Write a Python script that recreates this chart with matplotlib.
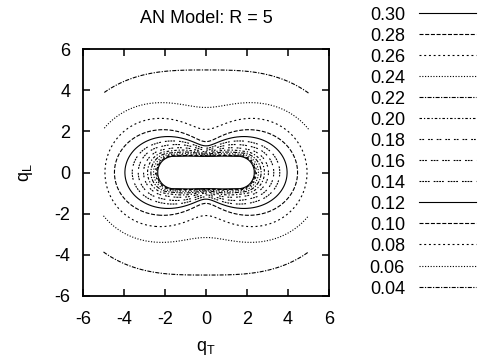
import numpy as np
import matplotlib
matplotlib.use("Agg")
import matplotlib.pyplot as plt
from matplotlib.lines import Line2D

plt.rcParams["font.family"] = ["Liberation Sans", "DejaVu Sans"]
plt.rcParams["lines.scale_dashes"] = False
plt.rcParams["axes.unicode_minus"] = False

levels = [0.04, 0.06, 0.08, 0.10, 0.12, 0.14, 0.16, 0.18, 0.20,
          0.22, 0.24, 0.26, 0.28, 0.30]

# outer contours, points (q_T, q_L) in the first quadrant
c04_x = [0.0, 2.5, 4.93, 7.0]
c04_y = [4.97, 4.87, 3.89, 0.0]
c06_x = [0.0, 2.5, 4.36, 4.93, 5.75]
c06_y = [3.16, 3.37, 2.76, 2.12, 0.0]
c08_x = [0.0, 2.4, 4.52, 4.85]
c08_y = [2.1, 2.59, 1.59, 0.0]
c10_x = [0.0, 2.08, 4.03, 4.44]
c10_y = [1.5, 2.07, 1.26, 0.0]
c12_x = [0.0, 1.76, 3.63, 3.87]
c12_y = [1.30, 1.72, 1.10, 0.0]

# empty hole in the middle: straight half length and end radius
hole_a = 1.55
hole_rho = 0.78
# inner levels 0.14 ... 0.30: relative position between hole edge (0) and 0.12 contour (1)
inner_frac = [0.78, 0.60, 0.44, 0.32, 0.22, 0.14, 0.08, 0.045, 0.02]


def fit_radius(xs, ys):
    xs = np.asarray(xs)
    ys = np.asarray(ys)
    th = np.arctan2(ys, xs)
    A = np.column_stack([np.ones_like(th), np.cos(2 * th), np.cos(4 * th)])
    coef = np.linalg.lstsq(A, np.hypot(xs, ys), rcond=None)[0]
    return coef


def radius(coef, th):
    return coef[0] + coef[1] * np.cos(2 * th) + coef[2] * np.cos(4 * th)


def hole_radius(th):
    s = np.sin(th)
    c = np.cos(th)
    t_circ = hole_a * c + np.sqrt(np.maximum(hole_rho**2 - (hole_a * s)**2, 0))
    t_flat = hole_rho / np.maximum(s, 1e-9)
    return np.where(t_flat * c <= hole_a, t_flat, t_circ)


q = np.linspace(-5, 5, 601)
X, Y = np.meshgrid(q, q)
TH = np.arctan2(np.abs(Y), np.abs(X))
R = np.hypot(X, Y)

Rs = [radius(fit_radius(cx, cy), TH) for cx, cy in
      [(c04_x, c04_y), (c06_x, c06_y), (c08_x, c08_y), (c10_x, c10_y), (c12_x, c12_y)]]
Rh = hole_radius(TH)
for fr in inner_frac:
    Rs.append(Rh + (Rs[4] - Rh) * fr)

F = 0.30 + 0.1 * (Rs[-1] - R) / Rs[-1]
m = R >= Rs[0]
F[m] = (levels[0] * Rs[0] / R)[m]
for i in range(len(levels) - 1):
    m = (R < Rs[i]) & (R >= Rs[i + 1])
    frac = (Rs[i] - R) / (Rs[i] - Rs[i + 1])
    F[m] = (levels[i] + (levels[i + 1] - levels[i]) * frac)[m]

dash_types = [
    "-",
    (0, (2.9, 1.2)),
    (0, (1.4, 2.0)),
    (0, (0.8, 1.2)),
    (0, (2.9, 1.0, 0.9, 1.0)),
    (0, (1.8, 1.4, 0.9, 1.4)),
    (0, (1.3, 0.7, 1.3, 2.9)),
    (0, (1.3, 0.7, 1.3, 0.7, 1.3, 2.9)),
    (0, (1.3, 0.7, 1.3, 0.7, 1.3, 0.7, 1.3, 2.9)),
]
n_lev = len(levels)
styles = [dash_types[(n_lev - 1 - k) % 9] for k in range(n_lev)]

fig = plt.figure(figsize=(4.79, 3.61), dpi=100)
ax = fig.add_axes([83 / 479, 1 - 296 / 361, 246 / 479, 247 / 361])
ax.contour(X, Y, F, levels=levels, colors="k", linewidths=0.8,
           linestyles=styles)
ax.set_xlim([-6, 6])
ax.set_ylim([-6, 6])
ax.set_xticks(range(-6, 7, 2))
ax.set_yticks(range(-6, 7, 2))
ax.tick_params(direction="in", length=5, width=1.1, top=True, right=True,
               labelsize=13, pad=9)
ax.tick_params(axis="x", pad=11)
for sp in ax.spines.values():
    sp.set_linewidth(1.3)
ax.set_title("AN Model: R = 5", fontsize=13, pad=18.5)
ax.set_xlabel(r"$\mathregular{q_T}$", fontsize=13, labelpad=8)
ax.set_ylabel(r"$\mathregular{q_L}$", fontsize=13, labelpad=14)

# key on the right, highest level first
for k in range(n_lev):
    lev = levels[n_lev - 1 - k]
    y_row = 1 - (12.7 + 21.07 * k) / 361
    fig.text(405 / 479, y_row - 7.0 / 361, "%.2f" % lev, fontsize=13,
             ha="right", va="baseline")
    fig.add_artist(Line2D([419 / 479, 476 / 479], [y_row, y_row],
                          transform=fig.transFigure, color="k", lw=0.8,
                          linestyle=dash_types[k % 9]))

fig.savefig("out.png", dpi=100)
plt.close(fig)
